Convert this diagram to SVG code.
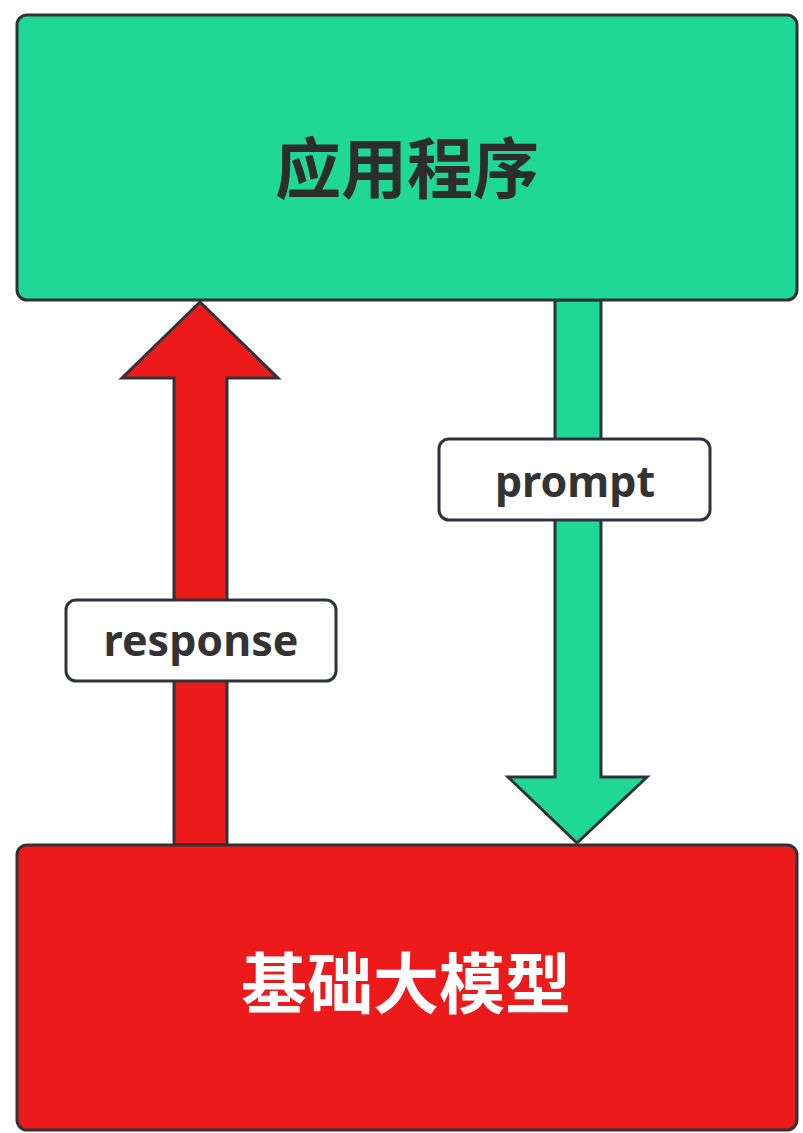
<svg xmlns="http://www.w3.org/2000/svg" width="803" height="1133" viewBox="0 0 803 1133">
<style>
.box{stroke:#2f3337;stroke-width:3;}
.green{fill:#1fd898;}
.red{fill:#ec1a1a;}
.lbl{fill:#ffffff;stroke:#2f3337;stroke-width:3;}
.t{font-family:"Noto Sans CJK SC","Noto Sans",sans-serif;font-weight:bold;text-anchor:middle;}
.lt{font-family:"Noto Sans","Open Sans",sans-serif;font-weight:bold;font-size:43px;fill:#333333;text-anchor:middle;}
</style>
<rect width="803" height="1133" fill="#ffffff"/>
<g id="connectors">
<polygon class="box red" points="174,845 174,378 122,378 200,302 278,378 227,378 227,845"/>
<polygon class="box green" points="555,300 555,777 508,777 577,843 647,777 601,777 601,300"/>
</g>
<g id="app">
<rect class="box green" x="17" y="15" width="780" height="285" rx="10"/>
<text class="t" x="407" y="193" font-size="66" fill="#2d2d2d">应用程序</text>
</g>
<g id="model">
<rect class="box red" x="17" y="845" width="780" height="285" rx="10"/>
<text class="t" x="406" y="1008" font-size="66" fill="#ffffff">基础大模型</text>
</g>
<g id="label-prompt">
<rect class="lbl" x="439" y="439" width="271" height="81" rx="10"/>
<text class="lt" x="575" y="497">prompt</text>
</g>
<g id="label-response">
<rect class="lbl" x="66" y="600" width="270" height="81" rx="10"/>
<text class="lt" x="201" y="656">response</text>
</g>
</svg>
